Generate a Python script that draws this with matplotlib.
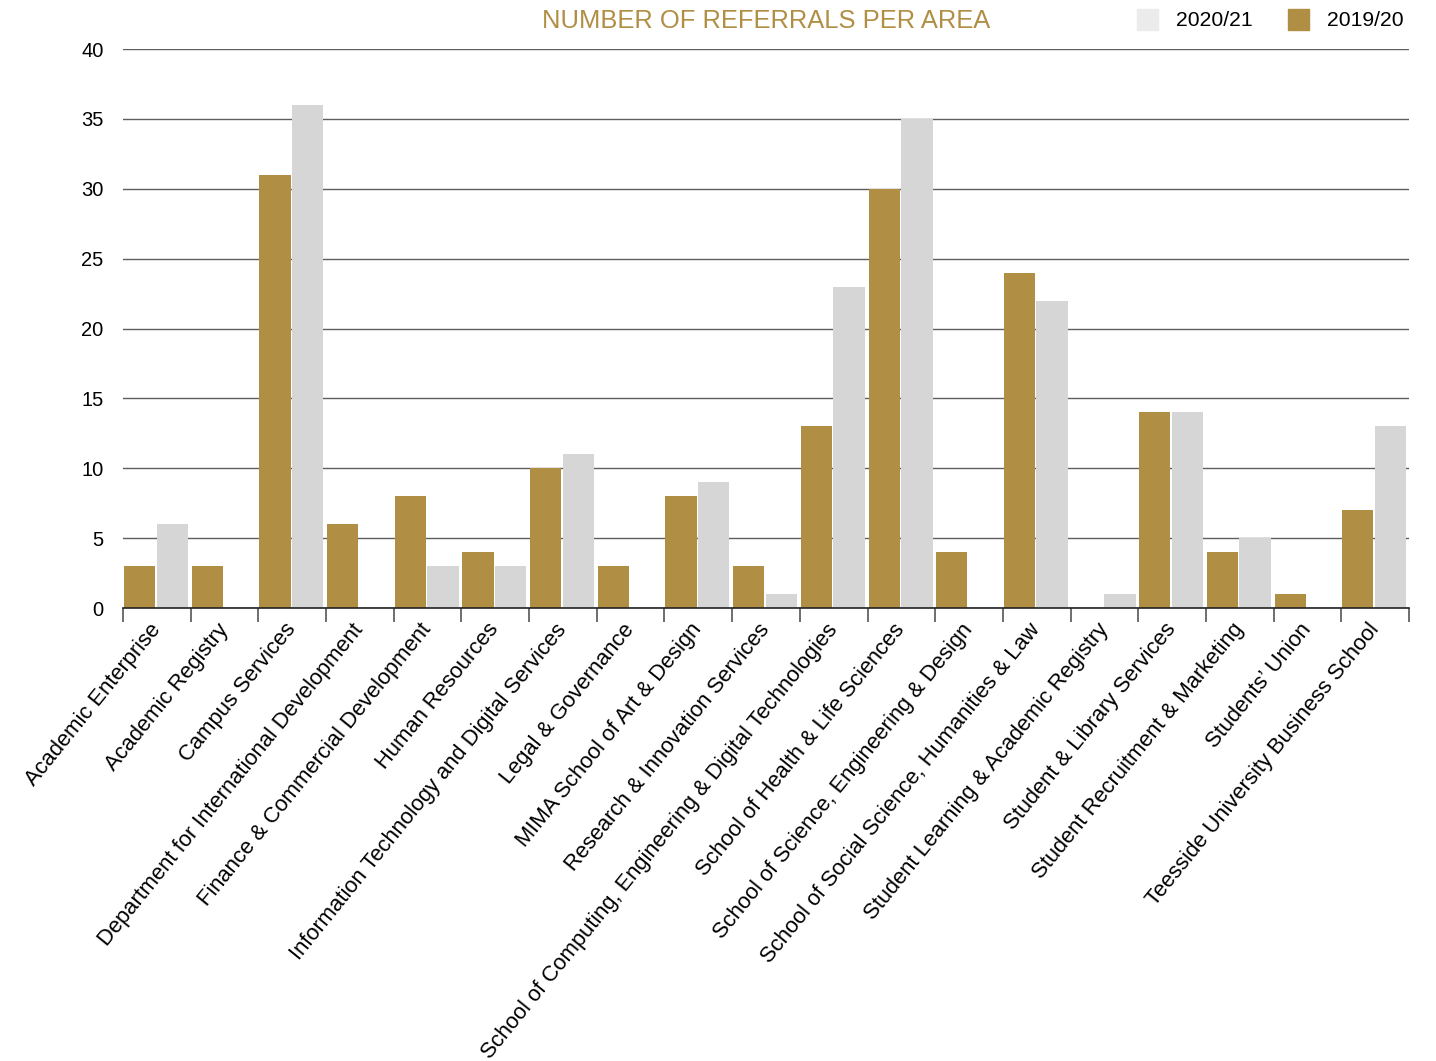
import numpy as np
import matplotlib
matplotlib.use("Agg")
import matplotlib.pyplot as plt
from matplotlib.patches import Rectangle

plt.rcParams['font.family'] = ['Liberation Sans', 'DejaVu Sans']

areas = [
    "Academic Enterprise",
    "Academic Registry",
    "Campus Services",
    "Department for International Development",
    "Finance & Commercial Development",
    "Human Resources",
    "Information Technology and Digital Services",
    "Legal & Governance",
    "MIMA School of Art & Design",
    "Research & Innovation Services",
    "School of Computing, Engineering & Digital Technologies",
    "School of Health & Life Sciences",
    "School of Science, Engineering & Design",
    "School of Social Science, Humanities & Law",
    "Student Learning & Academic Registry",
    "Student & Library Services",
    "Student Recruitment & Marketing",
    "Students\u2019 Union",
    "Teesside University Business School",
]
referrals_1920 = [3, 3, 31, 6, 8, 4, 10, 3, 8, 3, 13, 30, 4, 24, 0, 14, 4, 1, 7]
referrals_2021 = [6, 0, 36, 0, 3, 3, 11, 0, 9, 1, 23, 35, 0, 22, 1, 14, 5, 0, 13]

GOLD = "#B08F45"
GREY = "#D6D6D6"
GREY_KEY = "#EBEBEB"

W, H = 1436, 1061
fig = plt.figure(figsize=(W / 100, H / 100), dpi=100)
ax = fig.add_axes([123 / W, 1 - 608 / H, (1409 - 123) / W, (608 - 49) / H])

x = np.arange(len(areas))
ax.bar(x + 0.015, referrals_1920, width=0.46, align="edge", color=GOLD, zorder=3)
ax.bar(x + 0.495, referrals_2021, width=0.465, align="edge", color=GREY, zorder=3)

ax.set_xlim(0, len(areas))
ax.set_ylim(0, 40)
ax.set_yticks(range(0, 41, 5))
ax.tick_params(axis="y", length=0, labelsize=14.5, pad=14)
ax.yaxis.grid(True, color="#5E5E5E", linewidth=1.0, zorder=0)
ax.set_axisbelow(True)

# boundary ticks between areas, labels placed at centres
ax.set_xticks(np.arange(len(areas) + 1))
ax.set_xticklabels([])
ax.tick_params(axis="x", length=10, width=1.2, color="#555555")
ax.set_xticks(x + 0.5, minor=True)
ax.set_xticklabels(areas, minor=True, rotation=51, ha="right", va="center",
                   rotation_mode="anchor", fontsize=15.8)
ax.tick_params(axis="x", which="minor", length=0, pad=13)

for side in ["top", "right", "left"]:
    ax.spines[side].set_visible(False)
ax.spines["bottom"].set_color("#222222")
ax.spines["bottom"].set_linewidth(1.2)
ax.spines["bottom"].set_zorder(4)

fig.text(766 / W, 1 - 21 / H, "NUMBER OF REFERRALS PER AREA", color=GOLD,
         fontsize=18.4, ha="center", va="center")

# legend keys
for x0, colour, label in [(1137, GREY_KEY, "2020/21"), (1288, GOLD, "2019/20")]:
    fig.add_artist(Rectangle((x0 / W, 1 - 30 / H), 21 / W, 21 / H,
                             transform=fig.transFigure, color=colour))
    fig.text((x0 + 39) / W, 1 - 20 / H, label, fontsize=15.2, ha="left", va="center")

fig.savefig("out.png", dpi=100)
